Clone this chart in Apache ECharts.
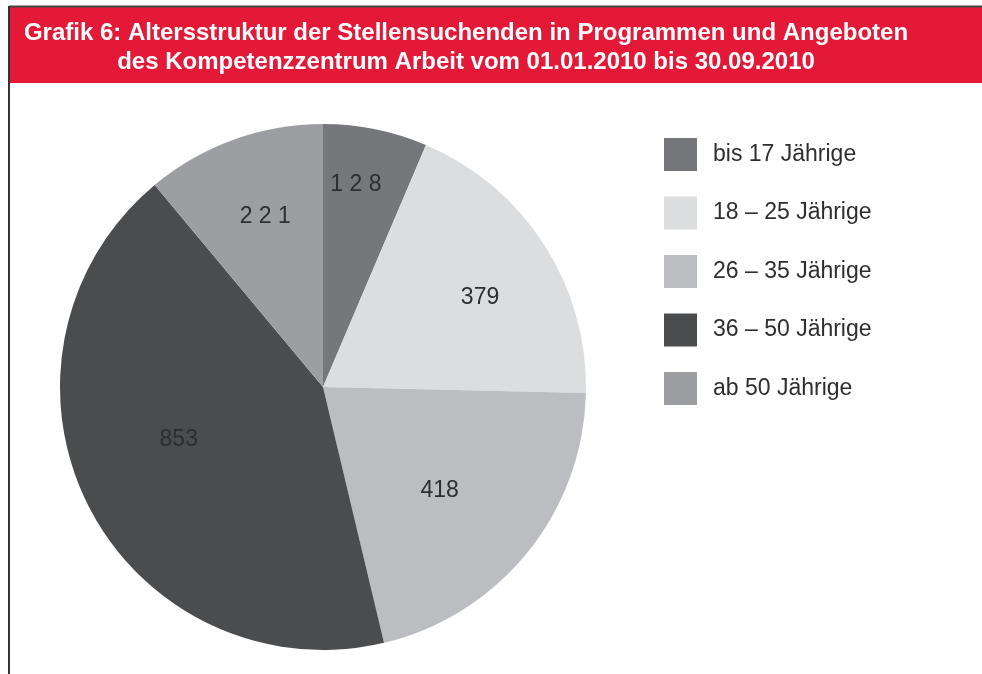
<!DOCTYPE html>
<html>
<head>
<meta charset="utf-8">
<script src="https://cdn.jsdelivr.net/npm/echarts@6/dist/echarts.min.js"></script>
<style>
    html, body { margin: 0; padding: 0; background: #fff; }
    #chart { width: 982px; height: 674px; }
</style>
</head>
<body>
<div id="chart"></div>
<script>
    // Altersgruppen und Anzahl Stellensuchende
    var categories = ['bis 17 Jährige', '18 – 25 Jährige', '26 – 35 Jährige', '36 – 50 Jährige', 'ab 50 Jährige'];
    var values = [128, 379, 418, 853, 221];
    var labelTexts = ['1 2 8', '379', '418', '853', '2 2 1'];

    var colors = ['#76777b', '#dcdddf', '#bcbdc0', '#4b4c4e', '#9d9ea2'];
    // Verschiebung der Beschriftung innerhalb der Segmente
    var labelOffsets = [[6, -71], [44, -16], [12, 19], [-24, -8], [-12, -44]];

    var pieData = categories.map(function (name, i) {
        return {
            name: name,
            value: values[i],
            itemStyle: { color: colors[i] },
            label: { offset: labelOffsets[i], formatter: labelTexts[i] }
        };
    });

    var chart = echarts.init(document.getElementById('chart'));
    var option = {
        animation: false,
        backgroundColor: '#fff',
        graphic: [
            { type: 'rect', shape: { x: 9, y: 7, width: 973, height: 76 }, style: { fill: '#e31937' }, z: -1 },
            { type: 'line', shape: { x1: 9, y1: 6.5, x2: 982, y2: 6.5 }, style: { stroke: '#444', lineWidth: 2 } },
            { type: 'line', shape: { x1: 9, y1: 6, x2: 9, y2: 674 }, style: { stroke: '#333', lineWidth: 2 } }
        ],
        title: {
            text: 'Grafik 6: Altersstruktur der Stellensuchenden in Programmen und Angeboten\ndes Kompetenzzentrum Arbeit vom 01.01.2010 bis 30.09.2010',
            left: 461,
            top: 14,
            textAlign: 'center',
            textStyle: {
                color: '#fff',
                fontFamily: 'Liberation Sans, Arial',
                fontWeight: 'bold',
                fontSize: 24,
                lineHeight: 29
            }
        },
        legend: {
            orient: 'vertical',
            left: 664,
            top: 138,
            padding: 0,
            itemWidth: 33,
            itemHeight: 33,
            itemGap: 25.5,
            icon: 'rect',
            selectedMode: false,
            data: categories,
            textStyle: {
                color: '#2e2e2e',
                fontFamily: 'Liberation Sans, Arial',
                fontSize: 23,
                padding: [0, 0, 0, 11]
            }
        },
        series: [
            {
                type: 'pie',
                center: [323, 387],
                radius: 263,
                startAngle: 90,
                clockwise: true,
                avoidLabelOverlap: false,
                label: {
                    show: true,
                    position: 'inside',
                    color: '#2e2e2e',
                    fontFamily: 'Liberation Sans, Arial',
                    fontSize: 23
                },
                labelLine: { show: false },
                emphasis: { disabled: true },
                data: pieData
            }
        ]
    };
    chart.setOption(option);
</script>
</body>
</html>
